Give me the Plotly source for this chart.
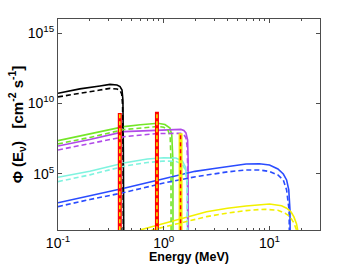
import numpy as np
import plotly.graph_objects as go

# ---- data (energies in MeV, log10 of flux) ----
# pp continuum
pp_E      = [0.1, 0.161, 0.249, 0.310, 0.361, 0.386, 0.403, 0.411, 0.415, 0.420]
pp_hi_log = [10.72, 11.03, 11.24, 11.35, 11.31, 11.20, 10.95, 10.24, 6.69, -3]
ppd_E     = [0.1, 0.161, 0.249, 0.310, 0.361, 0.386, 0.400, 0.408, 0.412, 0.416]
pp_lo_log = [10.46, 10.74, 10.95, 11.07, 11.02, 10.92, 10.67, 9.89, 6.69, -3]

# 13N
n13_E      = [0.1, 0.2, 0.42, 0.6, 0.88, 1.026, 1.144, 1.19, 1.22, 1.225]
n13_hi_log = [7.35, 7.81, 8.35, 8.48, 8.59, 8.50, 8.25, 7.76, 5.98, -3]
n13d_E     = [0.1, 0.2, 0.42, 0.6, 0.88, 1.0, 1.10, 1.15, 1.17, 1.175]
n13_lo_log = [7.12, 7.58, 8.14, 8.27, 8.36, 8.30, 8.08, 7.6, 5.9, -3]

# 15O
o15_E      = [0.1, 0.2, 0.42, 0.88, 1.3, 1.45, 1.55, 1.62, 1.68, 1.70, 1.71]
o15_hi_log = [6.97, 7.43, 7.99, 8.11, 8.16, 8.15, 8.08, 7.90, 7.40, 5.98, -3]
o15d_E     = [0.1, 0.2, 0.42, 0.88, 1.3, 1.45, 1.55, 1.62, 1.66, 1.68, 1.69]
o15_lo_log = [6.69, 7.15, 7.63, 7.86, 7.90, 7.87, 7.78, 7.55, 7.0, 5.7, -3]

# 17F
f17_E      = [0.1, 0.2, 0.43, 0.7, 1.0, 1.3, 1.5, 1.6, 1.67, 1.69]
f17_hi_log = [4.75, 5.18, 5.78, 6.05, 6.14, 6.12, 5.91, 5.48, 4.56, -3]
f17d_E     = [0.1, 0.2, 0.43, 0.7, 1.0, 1.3, 1.5, 1.6, 1.66, 1.68]
f17_lo_log = [4.44, 4.92, 5.55, 5.80, 5.90, 5.88, 5.68, 5.25, 4.30, -3]

# 8B
b8_E      = [0.1, 0.2, 0.42, 1.0, 1.97, 3.0, 4.0, 6.0, 8.0, 10.0, 12.0, 13.5, 14.5, 15.2, 15.6, 15.8]
b8_hi_log = [2.94, 3.43, 3.97, 4.65, 5.17, 5.37, 5.52, 5.69, 5.71, 5.62, 5.34, 4.98, 4.56, 3.85, 2.43, -3]
b8d_E     = [0.1, 0.2, 0.42, 1.0, 2.0, 3.0, 4.0, 6.0, 8.0, 10.0, 12.0, 13.5, 14.5, 15.3, 15.6]
b8_lo_log = [2.66, 3.17, 3.66, 4.34, 4.79, 5.02, 5.13, 5.27, 5.27, 5.16, 4.91, 4.56, 3.85, 2.43, -3]

# hep
hep_E      = [0.595, 0.8, 1.0, 1.42, 2.54, 4.0, 6.0, 10.0, 13.0, 14.5, 16.0, 17.0, 18.0, 18.6, 18.8]
hep_hi_log = [1.0, 1.27, 1.47, 1.76, 2.30, 2.55, 2.71, 2.85, 2.72, 2.55, 2.28, 1.93, 1.43, 0.86, -3]
hepd_E     = [0.767, 1.0, 1.64, 2.54, 4.0, 6.0, 9.0, 12.0, 14.0, 15.6, 17.0, 18.0, 18.5]
hep_lo_log = [1.0, 1.2, 1.59, 1.95, 2.20, 2.38, 2.48, 2.40, 2.20, 1.95, 1.50, 1.00, -3]

# line sources: energy and top of line (log10 flux)
be7_E   = [0.384, 0.862]
be7_log = [9.32, 9.41]
pep_E   = [1.442]
pep_log = [7.88]

x_ticks = [0.1, 1, 10]
x_text  = ["10<sup>-1</sup>", "10<sup>0</sup>", "10<sup>1</sup>"]
y_ticks = [1e5, 1e10, 1e15]
y_text  = ["10<sup>5</sup>", "10<sup>10</sup>", "10<sup>15</sup>"]
x_title = "<b>Energy (MeV)</b>"
y_title = "<b>Φ (E<sub>ν</sub>)   [cm<sup>-2</sup> s<sup>-1</sup>]</b>"

BLACK, GREEN, PURPLE = "#000000", "#74e628", "#b04ae8"
CYAN, BLUE, YELLOW, RED = "#7ff3df", "#2a4cff", "#f2f000", "#ff0000"
DASH = "5px,3px"
FONT = "Liberation Sans, Arial"

fig = go.Figure()

def add(E, lg, color, dash=None, width=1.6):
    fig.add_trace(go.Scatter(x=E, y=np.power(10.0, lg), mode="lines",
                             line=dict(color=color, width=width, dash=dash),
                             showlegend=False, hoverinfo="skip"))

for E, lg, c in [(pp_E, pp_hi_log, BLACK), (n13_E, n13_hi_log, GREEN),
                 (o15_E, o15_hi_log, PURPLE), (f17_E, f17_hi_log, CYAN),
                 (b8_E, b8_hi_log, BLUE), (hep_E, hep_hi_log, YELLOW)]:
    add(E, lg, c)
for E, lg, c in [(ppd_E, pp_lo_log, BLACK), (n13d_E, n13_lo_log, GREEN),
                 (o15d_E, o15_lo_log, PURPLE), (f17d_E, f17_lo_log, CYAN),
                 (b8d_E, b8_lo_log, BLUE), (hepd_E, hep_lo_log, YELLOW)]:
    add(E, lg, c, dash=DASH)

for e, lg in zip(be7_E, be7_log):
    add([e, e], [-3, lg], RED, width=4)
    add([e, e], [-3, lg], YELLOW, dash="4px,3px", width=1.5)
for e, lg in zip(pep_E, pep_log):
    add([e, e], [-3, lg], YELLOW, width=4)
    add([e, e], [-3, lg], RED, dash="4px,3px", width=1.5)

minor_x = [v * d for d in (0.1, 1, 10) for v in range(2, 10) if v * d <= 30]

axis_common = dict(showline=True, linecolor="#4d4d4d", linewidth=1, mirror="ticks",
                   ticks="inside", ticklen=4, tickcolor="#4d4d4d", showgrid=False,
                   zeroline=False, automargin=False,
                   tickfont=dict(family=FONT, size=14, color="#000"))

fig.update_xaxes(type="log", range=[-1, np.log10(30)], tickmode="array",
                 tickvals=x_ticks, ticktext=x_text,
                 minor=dict(tickmode="array", tickvals=minor_x, ticks="inside",
                            ticklen=2, tickcolor="#4d4d4d"),
                 **axis_common)
fig.update_yaxes(type="log", range=[1, 16], tickmode="array",
                 tickvals=y_ticks, ticktext=y_text, **axis_common)

fig.add_annotation(text=x_title, xref="paper", yref="paper", x=0.5, y=-0.128,
                   xanchor="center", yanchor="middle", showarrow=False,
                   font=dict(family=FONT, size=12.5, color="#000"))
fig.add_annotation(text=y_title, xref="paper", yref="paper", x=-0.157, y=0.5,
                   textangle=-90, xanchor="center", yanchor="middle", showarrow=False,
                   font=dict(family=FONT, size=15, color="#000"))

fig.update_layout(width=354, height=267, margin=dict(l=58, r=34, t=19, b=37),
                  paper_bgcolor="white", plot_bgcolor="white")

# remove the browser's default 8px body margin so the figure sits at the page origin
fig.write_html("out.html", config={"displayModeBar": False, "staticPlot": True},
               post_script="document.body.style.margin='0';")
